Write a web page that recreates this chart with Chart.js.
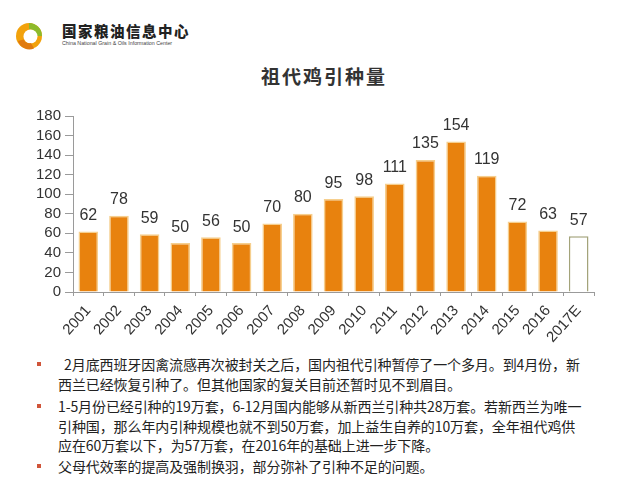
<!DOCTYPE html>
<html><head><meta charset="utf-8">
<script src="https://cdn.jsdelivr.net/npm/chart.js@4.4.1/dist/chart.umd.min.js"></script>
<style>
html,body{margin:0;padding:0;background:#fff;width:640px;height:480px;overflow:hidden;font-family:"Liberation Sans",Arial,sans-serif;}
#wrap{position:relative;width:640px;height:480px;}
#c{position:absolute;left:0;top:0;}
.title{position:absolute;left:0;width:640px;top:62px;text-align:center;font-family:"Noto Sans CJK SC";font-weight:bold;font-size:19px;letter-spacing:2px;color:#333;padding-left:4px;}
.logo-cn{position:absolute;left:62px;top:20px;font-family:"Noto Sans CJK SC";font-weight:900;font-size:14.5px;color:#222;letter-spacing:1.5px;}
.logo-en{position:absolute;left:62px;top:40px;font-size:5.3px;color:#444;white-space:nowrap;}
.bul{position:absolute;left:58px;font-family:"Noto Sans CJK SC";font-size:14px;line-height:19.5px;color:#222;white-space:nowrap;letter-spacing:-0.1px;}
.dot{position:absolute;left:37px;width:4px;height:4px;background:#D0553A;}
</style></head>
<body><div id="wrap">
<svg style="position:absolute;left:14px;top:21px" width="30" height="30" viewBox="0 0 30 30">
<circle cx="15" cy="15" r="13" fill="#F2A20C"/>
<path d="M15 2 A13 13 0 0 1 28 15 L22 15 A7 7 0 0 0 15 8 Z" fill="#8DBA2B"/>
<circle cx="16.5" cy="15.5" r="7" fill="#fff"/>
<path d="M4 20 A12 12 0 0 0 20 27.5 L17 22 A7 7 0 0 1 9.5 18.5 Z" fill="#E07A10"/>
</svg>
<div class="logo-cn">国家粮油信息中心</div>
<div class="logo-en">China National Grain &amp; Oils Information Center</div>
<div class="title">祖代鸡引种量</div>
<canvas id="c" width="640" height="345"></canvas>
<div class="dot" style="top:362px"></div>
<div class="bul" style="top:355px">&nbsp;&nbsp;2月底西班牙因禽流感再次被封关之后，国内祖代引种暂停了一个多月。到4月份，新<br>西兰已经恢复引种了。但其他国家的复关目前还暂时见不到眉目。</div>
<div class="dot" style="top:404px"></div>
<div class="bul" style="top:397px">1-5月份已经引种的19万套，6-12月国内能够从新西兰引种共28万套。若新西兰为唯一<br>引种国，那么年内引种规模也就不到50万套，加上益生自养的10万套，全年祖代鸡供<br>应在60万套以下，为57万套，在2016年的基础上进一步下降。</div>
<div class="dot" style="top:464px"></div>
<div class="bul" style="top:457px">父母代效率的提高及强制换羽，部分弥补了引种不足的问题。</div>
</div>
<script>
const categories = ["2001","2002","2003","2004","2005","2006","2007","2008","2009","2010","2011","2012","2013","2014","2015","2016","2017E"];
const values = [62,78,59,50,56,50,70,80,95,98,111,135,154,119,72,63,57];
const yTicks = [0,20,40,60,80,100,120,140,160,180];

const barColors = categories.map(c => c.endsWith("E") ? "#ffffff" : "#E8820E");
const borderColors = categories.map(c => c.endsWith("E") ? "#A3A37A" : "#F6CF8E");

const labelPlugin = {
  id: "vals",
  afterDatasetsDraw(chart) {
    const ctx = chart.ctx;
    const meta = chart.getDatasetMeta(0);
    ctx.save();
    ctx.font = "16px 'Liberation Sans', Arial, sans-serif";
    ctx.fillStyle = "#333";
    ctx.textAlign = "center";
    ctx.textBaseline = "bottom";
    meta.data.forEach((el, i) => {
      ctx.fillText(String(values[i]), el.x, el.y - 8);
    });
    ctx.restore();
  }
};

new Chart(document.getElementById("c"), {
  type: "bar",
  data: {
    labels: categories,
    datasets: [{
      data: values,
      backgroundColor: barColors,
      borderColor: borderColors,
      borderWidth: 1.5,
      barPercentage: 0.64,
      categoryPercentage: 1.0
    }]
  },
  options: {
    responsive: false,
    animation: false,
    devicePixelRatio: 1,
    layout: { padding: { left: 0, right: 46, top: 116, bottom: 0 } },
    plugins: { legend: { display: false }, tooltip: { enabled: false }, title: { display: false } },
    scales: {
      y: {
        min: 0, max: 180,
        afterBuildTicks(scale) { scale.ticks = yTicks.map(v => ({ value: v })); },
        afterFit(scale) { scale.width = 73; },
        border: { color: "#9a9a9a", width: 1 },
        grid: { drawOnChartArea: false, drawTicks: true, tickLength: 8, color: "#9a9a9a" },
        ticks: { color: "#333", autoSkip: false, font: { size: 15, family: "'Liberation Sans', Arial, sans-serif" }, padding: 4 }
      },
      x: {
        afterFit(scale) { scale.height = 53; },
        border: { color: "#9a9a9a", width: 1 },
        grid: { drawOnChartArea: false, drawTicks: true, tickLength: 4, color: "#9a9a9a", offset: true },
        ticks: { color: "#333", minRotation: 48, maxRotation: 48, autoSkip: false, padding: 6,
                 font: { size: 15, family: "'Liberation Sans', Arial, sans-serif" } }
      }
    }
  },
  plugins: [labelPlugin]
});
</script>
</body></html>
